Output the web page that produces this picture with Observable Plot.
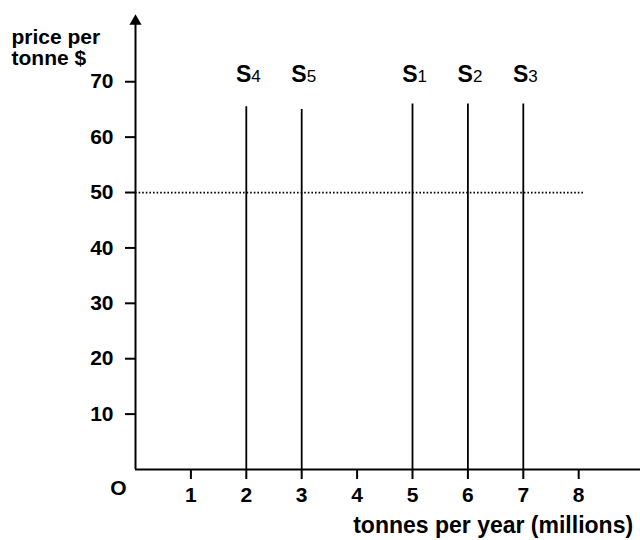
<!DOCTYPE html>
<html>
<head>
<meta charset="utf-8">
<script src="https://cdn.jsdelivr.net/npm/d3@7"></script>
<script src="https://cdn.jsdelivr.net/npm/@observablehq/plot@0.6"></script>
<style>
  html, body { margin: 0; padding: 0; background: #fff; }
  #chart svg { display: block; }
</style>
</head>
<body>
<div id="chart"></div>
<script>
// Data
const supplyIndex = [4, 5, 1, 2, 3];          // S subscripts
const supplyQty   = [2, 3, 5, 6, 7];          // tonnes per year (millions)
const supplyTop   = [65.5, 65, 66, 66, 66];   // top of each vertical supply line ($)
const equilibriumPrice = 50;
const priceLineEnd = 8.1;
const yTicks = [10, 20, 30, 40, 50, 60, 70];
const xTicks = [1, 2, 3, 4, 5, 6, 7, 8];
const yAxisTop = 82.5;

const supply = supplyQty.map((q, i) => ({q, top: supplyTop[i], idx: String(supplyIndex[i])}));

const font = "'Liberation Sans', Arial, Helvetica, sans-serif";

const chart = Plot.plot({
  width: 640,
  height: 540,
  marginLeft: 135,
  marginRight: 6.4,
  marginTop: 12,
  marginBottom: 71,
  style: {fontFamily: font, fontWeight: "bold", fontSize: "21px", color: "#000", background: "#fff"},
  x: {domain: [0, 9], axis: null},
  y: {domain: [0, yAxisTop], axis: null},
  marks: [
    // axes lines
    Plot.ruleY([0], {x1: 0, x2: 9.15, stroke: "#000", strokeWidth: 2}),
    Plot.ruleX([0], {y1: 0, y2: yAxisTop - 1.5, stroke: "#000", strokeWidth: 2}),
    Plot.dot([0], {x: 0, y: yAxisTop - 1.6, symbol: "triangle", r: 4.5, fill: "#000", stroke: "none"}),
    // tick marks (labels drawn below as text marks)
    Plot.axisY({ticks: yTicks, tickSize: 10, tickFormat: () => "", label: null, stroke: "#000", strokeWidth: 2}),
    Plot.axisX({ticks: xTicks, tickSize: 10, tickFormat: () => "", label: null, stroke: "#000", strokeWidth: 2}),
    Plot.text(yTicks, {x: 0, y: d => d, text: d => String(d), textAnchor: "end", dx: -22,
      fontSize: 21, fontWeight: "bold", fill: "#000"}),
    Plot.text(xTicks, {x: d => d, y: 0, text: d => String(d), textAnchor: "middle", dy: 26,
      fontSize: 21, fontWeight: "bold", fill: "#000"}),
    // dotted price line
    Plot.ruleY([equilibriumPrice], {x1: 0, x2: priceLineEnd, stroke: "#000", strokeWidth: 1.7, strokeDasharray: "1.6 2"}),
    // vertical supply lines
    Plot.ruleX(supply, {x: "q", y1: 0, y2: "top", stroke: "#000", strokeWidth: 1.8}),
    // labels S + index
    Plot.text(supply, {x: "q", frameAnchor: "top", text: () => "S", textAnchor: "end", lineAnchor: "bottom",
      dx: 5, dy: 69, fontSize: 23, fontWeight: "bold", fill: "#000"}),
    Plot.text(supply, {x: "q", frameAnchor: "top", text: "idx", textAnchor: "start", lineAnchor: "bottom",
      dx: 5, dy: 69, fontSize: 17, fontWeight: "normal", fill: "#000"}),
    // origin
    Plot.text([0], {x: 0, y: 0, text: () => "O", dx: -17, dy: 19, fontSize: 21, fontWeight: "bold", fill: "#000"}),
    // axis titles
    Plot.text(["price per"], {frameAnchor: "top-left", dx: -124, dy: 31, textAnchor: "start", lineAnchor: "bottom",
      fontSize: 21, fontWeight: "bold", fill: "#000"}),
    Plot.text(["tonne $"], {frameAnchor: "top-left", dx: -124, dy: 52, textAnchor: "start", lineAnchor: "bottom",
      fontSize: 21, fontWeight: "bold", fill: "#000"}),
    Plot.text(["tonnes per year (millions)"], {frameAnchor: "bottom-right", dx: -1, dy: 63, textAnchor: "end",
      lineAnchor: "bottom", fontSize: 23, fontWeight: "bold", fill: "#000"})
  ]
});
document.getElementById("chart").appendChild(chart);
</script>
</body>
</html>
